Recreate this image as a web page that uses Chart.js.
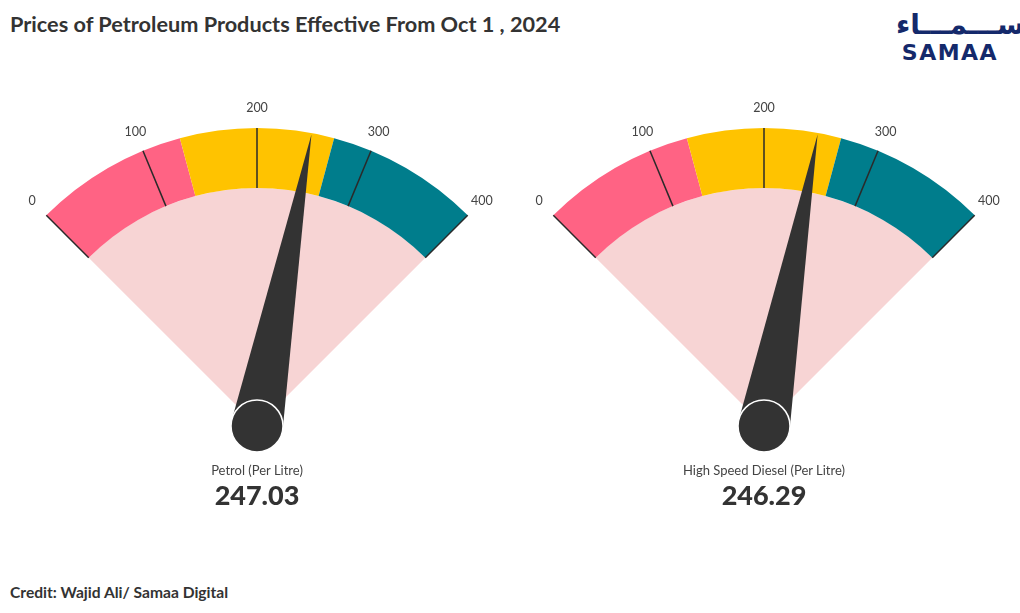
<!DOCTYPE html>
<html>
<head>
<meta charset="utf-8">
<script src="https://cdn.jsdelivr.net/npm/chart.js@4.4.1/dist/chart.umd.min.js"></script>
<style>
    html, body { margin: 0; padding: 0; background: #fff; }
    body { width: 1020px; height: 613px; position: relative; overflow: hidden; font-family: Lato, "Open Sans", sans-serif; color: #333; }
    .title { position: absolute; left: 10px; top: 11px; font-size: 21.7px; font-weight: bold; color: #333; white-space: nowrap; }
    .credit { position: absolute; left: 10px; top: 583px; font-size: 15.6px; font-weight: bold; color: #333; white-space: nowrap; }
    .logo { position: absolute; left: 896px; top: 8px; width: 108px; text-align: center; color: #14296b; }
    .logo .ar { font-family: "DejaVu Sans", sans-serif; font-size: 28px; font-weight: bold; line-height: 34px; }
    .logo .en { font-family: "DejaVu Sans", sans-serif; font-size: 22px; font-weight: bold; line-height: 22px; letter-spacing: 1.5px; }
    .gauge { position: absolute; top: 0; width: 500px; height: 613px; }
    .name { position: absolute; width: 300px; text-align: center; font-size: 13px; color: #444; top: 462px; }
    .price { position: absolute; width: 300px; text-align: center; font-size: 27px; font-weight: 900; color: #333; top: 478px; }
</style>
</head>
<body>
<div class="title">Prices of Petroleum Products Effective From Oct 1 , 2024</div>
<div class="logo"><div class="ar">ســـمـــاء</div><div class="en">SAMAA</div></div>
<div class="credit">Credit: Wajid Ali/ Samaa Digital</div>

<script>
// ===============================================
// Dados do gráfico
// ===============================================
const products = ['Petrol (Per Litre)', 'High Speed Diesel (Per Litre)'];
const prices = [247.03, 246.29];
const gaugeMax = 400;
const bandEdges = [0, 133.33, 266.67, 400];
const bandColors = ['#ff6384', '#ffc300', '#007d8c'];
const tickValues = [0, 100, 200, 300, 400];
const tickLabels = ['0', '100', '200', '300', '400'];

// centros horizontais de cada gauge
const gaugeCenters = [257, 764];

// ===============================================
// Plugin: ticks, rótulos e ponteiro
// ===============================================
const gaugePlugin = {
    id: 'gaugeExtras',
    afterDatasetsDraw(chart) {
        const ctx = chart.ctx;
        const arcs = chart.getDatasetMeta(0).data;
        const first = arcs[0];
        const last = arcs[arcs.length - 1];
        const cx = first.x;
        const cy = first.y;
        const outerR = first.outerRadius;
        const innerR = first.innerRadius;
        const a0 = first.startAngle;
        const a1 = last.endAngle;
        const toAngle = v => a0 + (v / gaugeMax) * (a1 - a0);

        // linhas dos ticks
        ctx.save();
        ctx.strokeStyle = '#2a2a2a';
        ctx.lineWidth = 1.5;
        tickValues.forEach(v => {
            const a = toAngle(v);
            ctx.beginPath();
            ctx.moveTo(cx + innerR * Math.cos(a), cy + innerR * Math.sin(a));
            ctx.lineTo(cx + outerR * Math.cos(a), cy + outerR * Math.sin(a));
            ctx.stroke();
        });

        // rótulos dos ticks
        ctx.fillStyle = '#444';
        ctx.font = '12.5px Lato, "Open Sans", sans-serif';
        ctx.textAlign = 'center';
        ctx.textBaseline = 'middle';
        tickValues.forEach((v, i) => {
            const a = toAngle(v);
            const r = outerR + 20;
            ctx.fillText(tickLabels[i], cx + r * Math.cos(a), cy + r * Math.sin(a));
        });

        // ponteiro
        const value = chart.options.plugins.gaugeExtras.value;
        const a = toAngle(value);
        const tipR = outerR - 1.5;
        const baseR = 26;
        const px = Math.cos(a + Math.PI / 2);
        const py = Math.sin(a + Math.PI / 2);
        ctx.fillStyle = '#333';
        ctx.beginPath();
        ctx.moveTo(cx + tipR * Math.cos(a), cy + tipR * Math.sin(a));
        ctx.lineTo(cx + baseR * px, cy + baseR * py);
        ctx.lineTo(cx - baseR * px, cy - baseR * py);
        ctx.closePath();
        ctx.fill();

        ctx.beginPath();
        ctx.arc(cx, cy, baseR, 0, Math.PI * 2);
        ctx.fill();
        ctx.strokeStyle = '#fff';
        ctx.lineWidth = 1.5;
        ctx.stroke();
        ctx.restore();
    }
};

// ===============================================
// Criação dos gauges
// ===============================================
const bandSizes = bandColors.map((c, i) => bandEdges[i + 1] - bandEdges[i]);

products.forEach((name, i) => {
    const cx = gaugeCenters[i];

    const wrap = document.createElement('div');
    wrap.className = 'gauge';
    wrap.style.left = (cx - 250) + 'px';
    const canvas = document.createElement('canvas');
    wrap.appendChild(canvas);
    document.body.appendChild(wrap);

    const nameDiv = document.createElement('div');
    nameDiv.className = 'name';
    nameDiv.style.left = (cx - 150) + 'px';
    nameDiv.textContent = name;
    document.body.appendChild(nameDiv);

    const priceDiv = document.createElement('div');
    priceDiv.className = 'price';
    priceDiv.style.left = (cx - 150) + 'px';
    priceDiv.textContent = prices[i].toFixed(2);
    document.body.appendChild(priceDiv);

    new Chart(canvas, {
        type: 'doughnut',
        data: {
            labels: ['Low', 'Mid', 'High'],
            datasets: [
                {
                    data: bandSizes,
                    backgroundColor: bandColors,
                    borderWidth: 0,
                    weight: 60
                },
                {
                    data: [gaugeMax],
                    backgroundColor: ['#f7d4d4'],
                    borderWidth: 0,
                    weight: 238
                }
            ]
        },
        options: {
            responsive: true,
            maintainAspectRatio: false,
            animation: false,
            events: [],
            rotation: -45,
            circumference: 90,
            cutout: 0,
            radius: 298,
            layout: { padding: { top: 100, bottom: 159, left: 0, right: 0 } },
            plugins: {
                legend: { display: false },
                tooltip: { enabled: false },
                gaugeExtras: { value: prices[i] }
            }
        },
        plugins: [gaugePlugin]
    });
});
</script>
</body>
</html>
